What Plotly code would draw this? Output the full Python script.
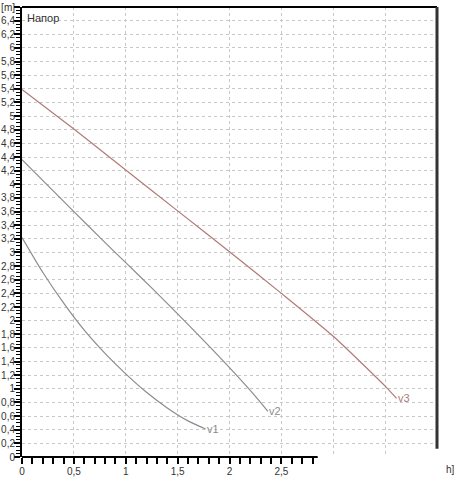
import plotly.graph_objects as go

# Data
v1_x = [0, 0.2, 0.4, 0.6, 0.8, 1.0, 1.2, 1.4, 1.6, 1.77]
v1_y = [3.22, 2.71, 2.26, 1.86, 1.52, 1.22, 0.95, 0.72, 0.53, 0.41]
v2_x = [0, 0.25, 0.5, 0.75, 1.0, 1.25, 1.5, 1.75, 2.0, 2.25, 2.37]
v2_y = [4.36, 3.98, 3.60, 3.22, 2.85, 2.48, 2.10, 1.71, 1.31, 0.89, 0.67]
v3_x = [0, 0.5, 1.0, 1.5, 2.0, 2.5, 3.0, 3.5, 3.61]
v3_y = [5.39, 4.81, 4.21, 3.61, 3.01, 2.40, 1.77, 1.04, 0.86]
labels = ["v1", "v2", "v3"]
colors = ["#8c8c8c", "#8c8c8c", "#b07a78"]

x_major = [0, 0.5, 1, 1.5, 2, 2.5, 3, 3.5, 4]
x_labels = ["0", "0,5", "1", "1,5", "2", "2,5", "", "", ""]
x_minor = [round(i * 0.1, 1) for i in range(0, 29)]
y_major = [round(i * 0.2, 1) for i in range(0, 34)]
y_labels = [f"{v:g}".replace(".", ",") for v in y_major[:-1]] + ["[m]"]
y_minor = [round(i * 0.05, 2) for i in range(0, 133)]

font = dict(family="Liberation Sans, Arial, sans-serif", size=10, color="#333333")

fig = go.Figure()
for xs, ys, lab, col in zip([v1_x, v2_x, v3_x], [v1_y, v2_y, v3_y], labels, colors):
    fig.add_trace(go.Scatter(x=xs, y=ys, mode="lines",
                             line=dict(color=col, width=1.2, shape="spline", smoothing=0.6),
                             hoverinfo="skip", showlegend=False))
    fig.add_annotation(x=xs[-1], y=ys[-1], text=lab, showarrow=False,
                       xanchor="left", yanchor="middle", xshift=-1,
                       font=dict(family=font["family"], size=11, color=col))

fig.update_layout(
    width=459, height=478,
    margin=dict(l=22, r=22, t=7, b=21),
    paper_bgcolor="white", plot_bgcolor="white",
    font=font,
    showlegend=False,
)
fig.update_xaxes(
    range=[0, 4], tickmode="array", tickvals=x_major, ticktext=x_labels,
    ticks="", ticklabelstandoff=7, automargin=False,
    showgrid=True, gridcolor="#c8c8c8", griddash="dot", gridwidth=1,
    showline=False, zeroline=False,
    minor=dict(tickmode="array", tickvals=x_minor, ticks="outside", ticklen=6,
               tickwidth=2, tickcolor="black", showgrid=False),
    tickfont=font,
)
fig.update_yaxes(
    range=[0, 6.6], tickmode="array", tickvals=y_major, ticktext=y_labels,
    ticks="outside", ticklen=6, tickwidth=1.5, tickcolor="black", automargin=False,
    ticklabelstandoff=-3,
    showgrid=True, gridcolor="#c8c8c8", griddash="dot", gridwidth=1,
    showline=True, linecolor="black", linewidth=2, zeroline=False,
    minor=dict(tickmode="array", tickvals=y_minor, ticks="outside", ticklen=4,
               tickwidth=1, tickcolor="black", showgrid=False),
    tickfont=font,
)

# Frame: partial bottom axis line, top and right borders
fig.add_shape(type="line", xref="x", yref="paper", x0=0, x1=2.85, y0=0, y1=0,
              line=dict(color="black", width=2))
fig.add_shape(type="line", xref="paper", yref="paper", x0=0, x1=1, y0=1, y1=1,
              line=dict(color="black", width=2))
fig.add_shape(type="line", xref="paper", yref="y", x0=1, x1=1, y0=0.12, y1=6.6,
              line=dict(color="#333333", width=3))

fig.add_annotation(xref="paper", yref="paper", x=0.008, y=0.993, text="Напор",
                   showarrow=False, xanchor="left", yanchor="top",
                   font=dict(family=font["family"], size=11, color="#333333"))
fig.add_annotation(xref="paper", yref="paper", x=1.048, y=-0.012, text="h]",
                   showarrow=False, xanchor="right", yanchor="top", font=font)

fig.write_html("out.html", config={"displayModeBar": False},
               post_script="document.body.style.margin='0';document.body.style.overflow='hidden';")
